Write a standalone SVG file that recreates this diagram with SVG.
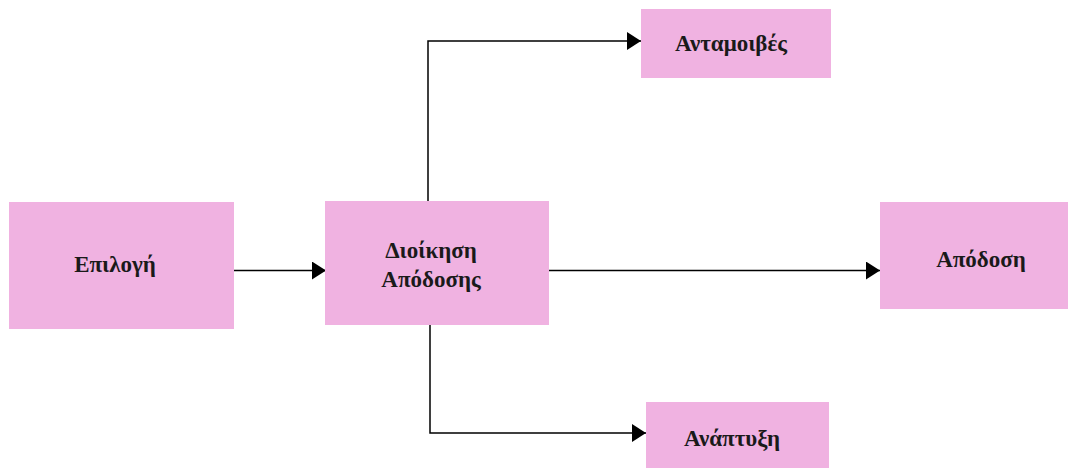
<svg xmlns="http://www.w3.org/2000/svg" width="1068" height="468" viewBox="0 0 1068 468">
  <defs>
    <style>
      .box { fill: #f0b2e1; }
      .lbl { font-family: "Liberation Serif", "Times New Roman", serif; font-weight: bold; font-size: 23px; fill: #1a1a1a; text-anchor: middle; }
      .wire { fill: none; stroke: #000; stroke-width: 1.5; }
    </style>
    <marker id="head" viewBox="0 0 14 18" refX="14" refY="9" markerWidth="14" markerHeight="18" markerUnits="userSpaceOnUse" orient="auto">
      <path d="M0,0 L14,9 L0,18 Z" fill="#000"/>
    </marker>
  </defs>
  <rect width="1068" height="468" fill="#fff"/>

  <g id="connectors">
    <path class="wire" d="M234,270.5 H326" marker-end="url(#head)"/>
    <path class="wire" d="M428,201 V41 H641" marker-end="url(#head)"/>
    <path class="wire" d="M549,270.5 H880" marker-end="url(#head)"/>
    <path class="wire" d="M430,325 V433 H646" marker-end="url(#head)"/>
  </g>

  <g id="node-epilogi">
    <rect class="box" x="9" y="202" width="225" height="127"/>
    <text class="lbl" x="115" y="272">Επιλογή</text>
  </g>

  <g id="node-dioikisi">
    <rect class="box" x="325" y="201" width="224" height="124"/>
    <text class="lbl" x="431" y="258">Διοίκηση</text>
    <text class="lbl" x="431" y="287">Απόδοσης</text>
  </g>

  <g id="node-antamoives">
    <rect class="box" x="641" y="9" width="190" height="69"/>
    <text class="lbl" x="731" y="51">Ανταμοιβές</text>
  </g>

  <g id="node-apodosi">
    <rect class="box" x="880" y="202" width="188" height="107"/>
    <text class="lbl" x="981" y="267">Απόδοση</text>
  </g>

  <g id="node-anaptyxi">
    <rect class="box" x="646" y="402" width="183" height="66"/>
    <text class="lbl" x="732" y="446">Ανάπτυξη</text>
  </g>
</svg>
